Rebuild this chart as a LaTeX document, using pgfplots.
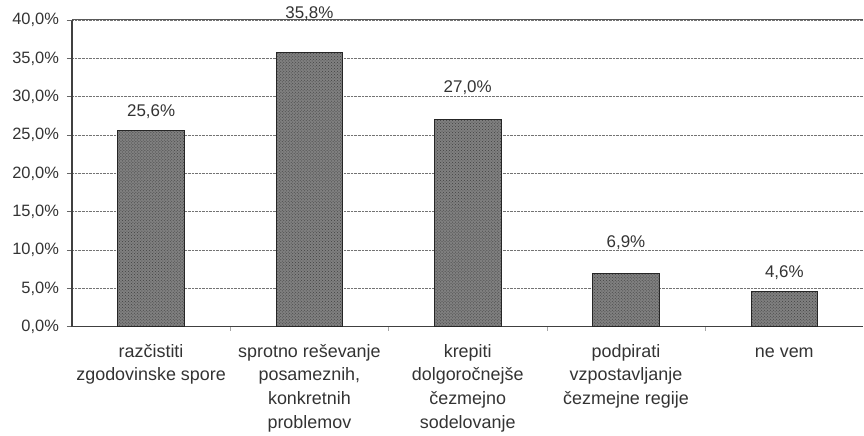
\documentclass[border=0pt]{standalone}
\usepackage{fontspec}
\setmainfont{Liberation Sans}
\usepackage{pgfplots}
\usepackage{pgfplotstable}
\pgfplotsset{compat=1.18}
\usetikzlibrary{patterns}
\pgfplotstableread{
x y off
0 25.6 19
1 35.8 39
2 27.0 32
3 6.9 31
4 4.6 19
}\datatab
\begin{document}
\begin{tikzpicture}[font=\fontsize{16.5}{23.5}\selectfont, text=black!80]
\begin{axis}[name=ax, scale only axis, width=792bp, height=307bp,
  xmin=-0.5, xmax=4.5, ymin=0, ymax=40,
  axis x line*=bottom, axis y line*=left,
  axis line style={black!75, line width=1.1pt},
  tick align=outside, major tick length=5bp,
  tick style={black!60, line width=0.8pt},
  xtick={0,1,2,3,4},
  xtick style={draw=none},
  xticklabels={{\strut razčistiti\\zgodovinske spore},{\strut sprotno reševanje\\posameznih,\\konkretnih\\problemov},{\strut krepiti\\dolgoročnejše\\čezmejno\\sodelovanje},{\strut podpirati\\vzpostavljanje\\čezmejne regije},{\strut ne vem}},
  xticklabel style={align=center, text=black!80, yshift=-5bp, font=\fontsize{18}{24}\selectfont},
  extra x ticks={0.5,1.5,2.5,3.5},
  extra x tick labels={},
  extra x tick style={xtick style={draw=black!35, line width=0.6pt}, major tick length=4bp},
  ytick={0,5,...,40},
  yticklabels={{0,0\%},{5,0\%},{10,0\%},{15,0\%},{20,0\%},{25,0\%},{30,0\%},{35,0\%},{40,0\%}},
  yticklabel style={xshift=-4.5bp, text=black!80},
  ymajorgrids,
  major grid style={densely dotted, black!55, line width=0.9pt},
  extra y ticks={40}, extra y tick labels={},
  extra y tick style={ymajorgrids, major grid style={solid, black!65, line width=1pt}},
  ybar, bar width=0.42,
  clip=false,
  /pgf/number format/assume math mode=true,
]
\addplot[fill=black!50, draw=black!85, line width=0.9pt,
  postaction={pattern=crosshatch dots, pattern color=black!75},
  nodes near coords={\pgfmathprintnumber[fixed, fixed zerofill, precision=1, use comma]{\pgfplotspointmeta}\%},
  point meta=y,
  visualization depends on={\thisrow{off} \as \labeloff},
  every node near coord/.append style={anchor=center, yshift=\labeloff bp, text=black!80, font=\fontsize{17}{20}\selectfont}]
  table[x=x, y=y] {\datatab};
\end{axis}
\path (ax.south west) ++(-72bp,-105bp);
\path (ax.north east) ++(0,20bp);
\end{tikzpicture}
\end{document}
